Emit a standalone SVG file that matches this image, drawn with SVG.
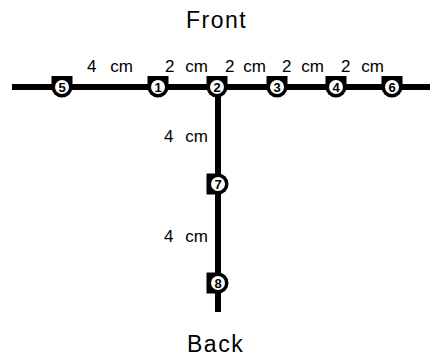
<svg xmlns="http://www.w3.org/2000/svg" xmlns:xlink="http://www.w3.org/1999/xlink" width="439" height="358" viewBox="0 0 439 358">
<style>
.lbl{font-family:"Liberation Sans",Arial,sans-serif;font-size:17px;fill:#000}
.ttl{font-family:"Liberation Sans",Arial,sans-serif;font-size:23px;fill:#000;letter-spacing:1.5px}
.num{font-family:"Liberation Sans",Arial,sans-serif;font-size:13px;font-weight:bold;fill:#000;text-anchor:middle}
.wire{stroke:#000;stroke-width:6;fill:none}
</style>
<defs>
<path id="mh" d="M-10.5,0 L-10.5,-11 L10.5,-11 L10.5,0 A10.5 10.5 0 0 1 -10.5,0 Z" fill="#000"/>
<path id="mv" d="M0,-10.5 L-11.5,-10.5 L-11.5,10.5 L0,10.5 A10.5 10.5 0 0 0 0,-10.5 Z" fill="#000"/>
</defs>
<g id="titles">
<text class="ttl" x="186" y="28">Front</text>
<text class="ttl" x="187" y="352">Back</text>
</g>
<g id="connectors">
<line class="wire" x1="12" y1="87" x2="430" y2="87"/>
<line class="wire" x1="218" y1="87" x2="218" y2="312"/>
</g>
<g id="labels">
<text class="lbl" x="87" y="72" word-spacing="9">4 cm</text>
<text class="lbl" x="165" y="72" word-spacing="6">2 cm</text>
<text class="lbl" x="225" y="72" word-spacing="4">2 cm</text>
<text class="lbl" x="282" y="72" word-spacing="5">2 cm</text>
<text class="lbl" x="341" y="72" word-spacing="6">2 cm</text>
<text class="lbl" x="164" y="142" word-spacing="7">4 cm</text>
<text class="lbl" x="164" y="242" word-spacing="7">4 cm</text>
</g>
<g id="node5" transform="translate(62,87)"><use xlink:href="#mh"/><circle r="7" fill="#fff"/><text class="num" y="4.5">5</text></g>
<g id="node1" transform="translate(158,87)"><use xlink:href="#mh"/><circle r="7" fill="#fff"/><text class="num" y="4.5">1</text></g>
<g id="node2" transform="translate(217,87)"><use xlink:href="#mh"/><circle r="7" fill="#fff"/><text class="num" y="4.5">2</text></g>
<g id="node3" transform="translate(277,87)"><use xlink:href="#mh"/><circle r="7" fill="#fff"/><text class="num" y="4.5">3</text></g>
<g id="node4" transform="translate(336,87)"><use xlink:href="#mh"/><circle r="7" fill="#fff"/><text class="num" y="4.5">4</text></g>
<g id="node6" transform="translate(392,87)"><use xlink:href="#mh"/><circle r="7" fill="#fff"/><text class="num" y="4.5">6</text></g>
<g id="node7" transform="translate(218,184)"><use xlink:href="#mv"/><circle r="7" fill="#fff"/><text class="num" y="4.5">7</text></g>
<g id="node8" transform="translate(218,283)"><use xlink:href="#mv"/><circle r="7" fill="#fff"/><text class="num" y="4.5">8</text></g>
</svg>
